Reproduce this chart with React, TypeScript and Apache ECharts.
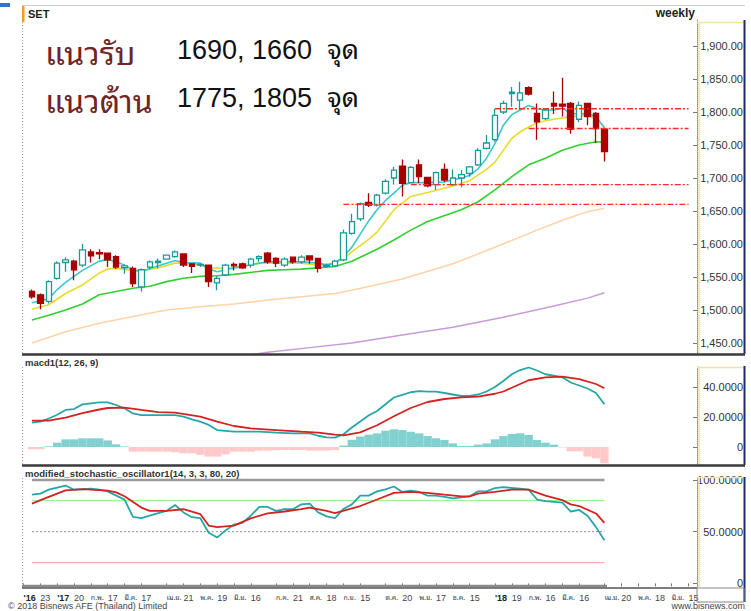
import { useEffect, useRef } from "react";
import * as echarts from "echarts";

const FONT = 'Arial, "Liberation Sans", Helvetica, sans-serif';
const THAI = '"Noto Sans Thai Looped", "Leelawadee UI", Tahoma, "Noto Sans Thai", "Noto Sans", sans-serif';
const MIXED = 'Arial, "Liberation Sans", "Noto Sans Thai Looped", Tahoma, "Noto Sans Thai", sans-serif';

// weekly categories (week ending dates)
const weeks = [
  "2016-12-09", "2016-12-16", "2016-12-23", "2016-12-30", "2017-01-06", "2017-01-13", "2017-01-20", "2017-01-27",
  "2017-02-03", "2017-02-10", "2017-02-17", "2017-02-24", "2017-03-03", "2017-03-10", "2017-03-17", "2017-03-24",
  "2017-03-31", "2017-04-07", "2017-04-14", "2017-04-21", "2017-04-28", "2017-05-05", "2017-05-12", "2017-05-19",
  "2017-05-26", "2017-06-02", "2017-06-09", "2017-06-16", "2017-06-23", "2017-06-30", "2017-07-07", "2017-07-14",
  "2017-07-21", "2017-07-28", "2017-08-04", "2017-08-11", "2017-08-18", "2017-08-25", "2017-09-01", "2017-09-08",
  "2017-09-15", "2017-09-22", "2017-09-29", "2017-10-06", "2017-10-13", "2017-10-20", "2017-10-27", "2017-11-03",
  "2017-11-10", "2017-11-17", "2017-11-24", "2017-12-01", "2017-12-08", "2017-12-15", "2017-12-22", "2017-12-29",
  "2018-01-05", "2018-01-12", "2018-01-19", "2018-01-26", "2018-02-02", "2018-02-09", "2018-02-16", "2018-02-23",
  "2018-03-02", "2018-03-09", "2018-03-16", "2018-03-23", "2018-03-30", "2018-04-06", "2018-04-13", "2018-04-20",
  "2018-04-27", "2018-05-04", "2018-05-11", "2018-05-18", "2018-05-25", "2018-06-01", "2018-06-08", "2018-06-15",
  "2018-06-22",
];

// tick labels: [week index, text]
const tickLabels: [number, string][] = [
  [0, "'16"], [2, "23"], [4, "'17"], [6, "20"], [8, "ก.พ."], [10, "17"], [12, "มี.ค."], [14, "17"],
  [17, "เม.ย."], [19, "21"], [21, "พ.ค."], [23, "19"], [25, "มิ.ย."], [27, "16"], [30, "ก.ค."], [32, "21"],
  [34, "ส.ค."], [36, "18"], [38, "ก.ย."], [40, "15"], [43, "ต.ค."], [45, "20"], [47, "พ.ย."], [49, "17"],
  [51, "ธ.ค."], [53, "15"], [56, "'18"], [58, "19"], [60, "ก.พ."], [62, "16"], [64, "มี.ค."], [66, "16"],
  [69, "เม.ย."], [71, "20"], [73, "พ.ค."], [75, "18"], [77, "มิ.ย."], [79, "15"],
];
const boldLabels = ["'16", "'17", "'18"];

const mainTicks = [1450, 1500, 1550, 1600, 1650, 1700, 1750, 1800, 1850, 1900];
const macdTicks = [0, 20, 40];
const stochTicks = [0, 50, 100];

// first candle sits on week index 1
const FIRST = 1;
// candles: [open, high, low, close]
const candles: number[][] = [
  [1528, 1531, 1517, 1520], [1523, 1525, 1501, 1510], [1513, 1545, 1510, 1543], [1548, 1574, 1546, 1571],
  [1572, 1580, 1558, 1576], [1574, 1576, 1545, 1561], [1568, 1600, 1565, 1591], [1588, 1592, 1572, 1582],
  [1587, 1592, 1577, 1585], [1586, 1587, 1565, 1576], [1581, 1583, 1562, 1565], [1564, 1569, 1555, 1567],
  [1563, 1566, 1535, 1540], [1535, 1563, 1528, 1561], [1565, 1575, 1562, 1573], [1572, 1578, 1563, 1574],
  [1577, 1584, 1576, 1583], [1581, 1590, 1579, 1588], [1585, 1586, 1565, 1568], [1570, 1571, 1556, 1566],
  [1568, 1571, 1565, 1569], [1568, 1569, 1535, 1543], [1541, 1552, 1530, 1548], [1553, 1570, 1551, 1568],
  [1569, 1572, 1560, 1567], [1570, 1572, 1562, 1564], [1568, 1579, 1564, 1577], [1578, 1583, 1573, 1581],
  [1586, 1588, 1570, 1573], [1578, 1580, 1565, 1571], [1568, 1580, 1565, 1577], [1580, 1581, 1570, 1573],
  [1573, 1583, 1570, 1580], [1582, 1583, 1570, 1576], [1578, 1579, 1557, 1563], [1566, 1570, 1564, 1568],
  [1567, 1576, 1565, 1574], [1576, 1622, 1574, 1617], [1616, 1646, 1614, 1634], [1638, 1663, 1635, 1661],
  [1663, 1677, 1656, 1659], [1659, 1676, 1657, 1674], [1677, 1698, 1675, 1695], [1700, 1717, 1690, 1712],
  [1718, 1728, 1672, 1692], [1693, 1718, 1692, 1716], [1720, 1728, 1692, 1702], [1701, 1702, 1686, 1688],
  [1690, 1710, 1682, 1708], [1713, 1722, 1694, 1697], [1690, 1713, 1688, 1700], [1700, 1712, 1686, 1705],
  [1707, 1718, 1702, 1717], [1720, 1745, 1718, 1742], [1745, 1765, 1743, 1753], [1758, 1805, 1755, 1795],
  [1800, 1817, 1797, 1813], [1828, 1838, 1808, 1830], [1818, 1846, 1803, 1829], [1837, 1839, 1825, 1827],
  [1798, 1813, 1758, 1785], [1790, 1805, 1788, 1803], [1813, 1831, 1797, 1809], [1812, 1852, 1793, 1809],
  [1813, 1815, 1767, 1774], [1789, 1816, 1785, 1810], [1813, 1814, 1780, 1793], [1798, 1800, 1753, 1775],
  [1774, 1775, 1725, 1739.92],
];
const lastCloseText = "1,739.92";

// moving averages read at candle indices: [candle index, value]
const maCyan: number[][] = [
  [0, 1511], [2, 1517], [3, 1531], [4, 1542], [6, 1560], [8, 1574], [9, 1576], [10, 1573], [11, 1568], [12, 1561],
  [13, 1558], [14, 1563], [16, 1571], [17, 1575], [18, 1572], [20, 1571], [21, 1562], [22, 1558], [23, 1561],
  [25, 1566], [27, 1571], [28, 1573], [30, 1573], [32, 1573], [34, 1571], [35, 1568], [36, 1571], [37, 1581],
  [38, 1595], [39, 1615], [40, 1635], [41, 1652], [42, 1666], [43, 1677], [44, 1689], [45, 1693], [47, 1693],
  [49, 1694], [51, 1700], [52, 1704], [53, 1714], [54, 1730], [55, 1752], [56, 1780], [57, 1796], [58, 1803],
  [59, 1810], [60, 1805], [61, 1803], [62, 1803], [63, 1806], [64, 1798], [65, 1797], [66, 1798], [67, 1793],
  [68, 1776],
];
const maYellow: number[][] = [
  [0, 1501], [2, 1508], [4, 1525], [6, 1538], [8, 1556], [9, 1562], [10, 1563], [12, 1560], [13, 1559],
  [15, 1564], [17, 1571], [18, 1571], [20, 1568], [21, 1564], [23, 1563], [25, 1566], [27, 1571], [30, 1571],
  [32, 1571], [34, 1568], [36, 1571], [37, 1578], [38, 1588], [40, 1607], [41, 1618], [43, 1652], [45, 1672],
  [47, 1678], [50, 1688], [52, 1696], [54, 1713], [55, 1724], [57, 1760], [58, 1770], [60, 1784], [62, 1789],
  [64, 1793], [66, 1795], [67, 1790], [68, 1778],
];
const maGreen: number[][] = [
  [0, 1485], [2, 1492], [4, 1500], [6, 1509], [8, 1523], [10, 1528], [12, 1533], [14, 1536], [16, 1543],
  [18, 1548], [20, 1551], [22, 1552], [24, 1554], [28, 1560], [30, 1561], [32, 1562], [36, 1566], [38, 1574],
  [39, 1580], [41, 1592], [43, 1606], [45, 1621], [47, 1634], [51, 1652], [53, 1664], [55, 1682], [57, 1702],
  [59, 1720], [61, 1730], [63, 1742], [65, 1750], [67, 1755], [68, 1754],
];
const maPeach: number[][] = [
  [0, 1450], [4, 1467], [8, 1480], [12, 1490], [16, 1500], [20, 1505], [24, 1509], [28, 1515], [32, 1520],
  [36, 1525], [38, 1530], [44, 1547], [50, 1570], [55, 1595], [60, 1621], [63, 1636], [66, 1649], [68, 1654],
];
const maPurple: number[][] = [
  [24, 1428], [28, 1436], [33, 1443], [38, 1450], [44, 1462], [50, 1474], [56, 1489], [62, 1506], [66, 1518],
  [68, 1526],
];

// support / resistance levels and the candle where each dashed line starts
const levelValues = [1805, 1775, 1690, 1660];
const levelStarts = [55, 59, 45, 37];
const levelEndWeek = 79;

// MACD(12,26,9)
const macdHist = [
  -1.5, -1.5, 0.5, 2.9, 5.1, 5.1, 5.8, 5.8, 5.8, 4.4, 1.8, 0.4, -3.1, -3.1, -3.1, -3.1, -3.1, -3.5, -4.2, -4.2,
  -5.3, -6.4, -6.4, -4.9, -3.1, -3.1, -3.1, -2.4, -2.4, -2.2, -2.0, -2.0, -2.0, -2.4, -2.4, -2.4, -2.0, 1.0, 4.8,
  7.0, 8.2, 9.1, 10.9, 11.8, 11.3, 10.2, 9.1, 7.3, 5.8, 4.7, 2.4, 0.7, 0.7, 1.6, 2.4, 5.1, 7.3, 8.7, 9.1, 8.0, 4.7,
  2.9, 1.6, -0.3, -2.9, -2.9, -6.4, -7.6, -10.9,
];
const macdLine: number[][] = [
  [0, 16.2], [1, 16.9], [2, 19], [3, 21.5], [4, 24.7], [5, 25.3], [6, 28.4], [7, 29.1], [8, 29.8], [9, 29.8],
  [10, 28], [11, 25.8], [12, 22.4], [13, 21.3], [15, 21.3], [17, 21.3], [18, 20.2], [19, 18.4], [20, 16.9],
  [21, 14.7], [22, 11.3], [24, 10.2], [27, 10.2], [29, 9.6], [31, 9.1], [33, 9.1], [34, 7.5], [35, 6.4],
  [36, 6.2], [37, 8.5], [38, 13], [39, 17], [40, 21], [41, 24], [42, 28.5], [43, 33], [44, 34.7], [45, 36.5],
  [46, 37.3], [47, 36.9], [48, 36.9], [49, 36], [50, 35], [51, 34], [52, 34], [53, 35], [54, 37], [55, 40],
  [56, 44], [57, 48.5], [58, 51.3], [59, 53], [60, 51], [61, 48.5], [62, 47.5], [63, 46.5], [64, 43], [65, 41],
  [66, 39], [67, 36], [68, 28.5],
];
const macdSignal: number[][] = [
  [0, 17.6], [2, 17.6], [4, 19.6], [6, 22.6], [8, 25], [9, 26], [11, 26.2], [13, 24.7], [15, 23.3], [17, 22.9],
  [20, 20.2], [22, 16.9], [24, 14], [26, 12.4], [29, 11.3], [32, 10.2], [34, 9.6], [36, 8.2], [37, 7.8],
  [39, 9.8], [41, 14.5], [43, 20.5], [45, 26], [47, 30], [49, 32], [51, 33.1], [53, 33.6], [55, 35.5], [56, 37],
  [57, 39.5], [59, 44.5], [61, 46.4], [63, 46.9], [65, 45.3], [67, 42], [68, 39.2],
];

// modified stochastic (14,3,3,80,20)
const stochK: number[][] = [
  [0, 85.8], [1, 86.8], [2, 90.6], [4, 94.6], [5, 90.6], [6, 91], [7, 91.5], [8, 90.6], [9, 89], [11, 81],
  [12, 64.4], [13, 63.2], [15, 67.9], [16, 70.1], [17, 75.8], [18, 68.6], [19, 64], [20, 63], [21, 49],
  [22, 44.3], [23, 51.2], [24, 56.9], [25, 58.5], [26, 65.4], [27, 73.9], [28, 73.9], [29, 70.1], [30, 71.7],
  [31, 71.7], [32, 76.4], [33, 77.1], [34, 68.6], [35, 64.8], [36, 63.2], [37, 72], [38, 76.4], [39, 84.9],
  [40, 84.9], [41, 89], [42, 91], [43, 93.7], [44, 88.4], [45, 89.6], [46, 88.4], [47, 84.9], [48, 84.9],
  [49, 83.7], [50, 82.1], [52, 84.2], [53, 89], [54, 89], [55, 92.2], [56, 93.1], [58, 91.5], [59, 90.6],
  [60, 81.1], [61, 79.5], [63, 78], [64, 69.5], [65, 71], [66, 65.4], [67, 54.4], [68, 41.8],
];
const stochD: number[][] = [
  [0, 77.1], [2, 83.7], [4, 89.9], [6, 91.2], [9, 89.6], [10, 88], [11, 84.2], [13, 73.3], [14, 70.1],
  [16, 70.1], [18, 71.7], [20, 67], [21, 55.9], [22, 54.4], [24, 55.9], [26, 62.9], [28, 67.6], [30, 69.5],
  [32, 71.7], [33, 73.3], [35, 70.1], [36, 67.9], [39, 74.8], [41, 81.1], [43, 87.5], [45, 88.4], [47, 87.5],
  [49, 85.8], [51, 84.2], [52, 84.2], [53, 86.8], [55, 88.4], [57, 90.6], [59, 90.6], [61, 84.9], [63, 80.5],
  [64, 76.4], [65, 74.8], [67, 67.6], [68, 58.5],
];
const stochLevels = [100, 80, 50, 20];

const toK = (pts: number[][]) => pts.map(([i, v]) => [i + FIRST, v]);
const lastK = candles.length - 1 + FIRST;

function buildOption(): any {
  const labelMap = new Map<number, string>(tickLabels);
  const gl = 23.5;
  const gr = 54;
  const grids = [
    { left: gl, right: gr, top: 20, height: 333 },
    { left: gl, right: gr, top: 367, height: 97 },
    { left: gl, right: gr, top: 478, height: 109 },
  ];
  const xAxes = [0, 1, 2].map((gi) => ({
    type: "category",
    gridIndex: gi,
    data: weeks,
    boundaryGap: false,
    axisLine: { show: false },
    axisTick:
      gi === 2
        ? {
            show: true,
            interval: (idx: number) => labelMap.has(idx),
            length: 3,
            lineStyle: { color: "#777" },
          }
        : { show: false },
    axisLabel:
      gi === 2
        ? {
            show: true,
            interval: 0,
            align: "left",
            margin: 6,
            fontSize: 9,
            color: "#444",
            fontFamily: FONT,
            formatter: (_v: string, idx: number) => {
              const t = labelMap.get(idx);
              if (!t) return "";
              if (boldLabels.includes(t)) return `{b|${t}}`;
              if (/[\u0E00-\u0E7F]/.test(t)) return `{t|${t}}`;
              return t;
            },
            rich: {
              b: { fontWeight: "bold", fontSize: 9, color: "#222", fontFamily: FONT },
              t: { fontSize: 7, color: "#444", fontFamily: THAI },
            },
          }
        : { show: false },
    splitLine: { show: false },
  }));
  const yBase = (gi: number, min: number, max: number, ticks: number[], fmt: (v: number) => string) => ({
    type: "value",
    gridIndex: gi,
    position: "right",
    min,
    max,
    axisLine: { show: true, lineStyle: { color: "#8c8c8c", type: "dotted" } },
    axisTick: { show: true, inside: true, length: 4, customValues: ticks, lineStyle: { color: "#777" } },
    axisLabel: {
      customValues: ticks,
      formatter: fmt,
      align: "right",
      margin: 46,
      color: "#333",
      fontSize: 11,
      fontFamily: FONT,
      showMinLabel: true,
      showMaxLabel: true,
    },
    splitLine: { show: false },
  });
  const fmtNum = (d: number) => (v: number) =>
    v === 0 ? "0" : v.toLocaleString("en-US", { minimumFractionDigits: d, maximumFractionDigits: d });
  const yAxes = [
    yBase(0, 1434.85, 1939.39, mainTicks, fmtNum(2)),
    yBase(1, -11.33, 53.33, macdTicks, fmtNum(4)),
    yBase(2, -3.5, 101.9, stochTicks, fmtNum(4)),
  ];

  const line = (data: number[][], color: string, width: number, xi: number, z = 3, type: any = "solid") => ({
    type: "line",
    xAxisIndex: xi,
    yAxisIndex: xi,
    data,
    showSymbol: false,
    symbol: "none",
    smooth: false,
    z,
    lineStyle: { color, width, type },
    silent: true,
  });

  const series: any[] = [
    line(toK(maPurple), "#c99ad8", 1.5, 0, 2),
    line(toK(maPeach), "#ffd3a8", 1.5, 0, 2),
    line(toK(maGreen), "#2fd02f", 1.6, 0, 2),
    line(toK(maYellow), "#e7dc2a", 1.6, 0, 2),
    line(toK(maCyan), "#3cc6cf", 1.6, 0, 2),
    {
      type: "candlestick",
      xAxisIndex: 0,
      yAxisIndex: 0,
      data: candles.map(([o, h, l, c], i) => [i + FIRST, o, c, l, h]),
      encode: { x: 0, y: [1, 2, 3, 4] },
      barWidth: 6,
      z: 4,
      itemStyle: {
        color: "#ffffff",
        color0: "#a80000",
        borderColor: "#1f9898",
        borderColor0: "#a80000",
        borderWidth: 1.3,
      },
      markLine: {
        silent: true,
        symbol: "none",
        data: [{ yAxis: candles[candles.length - 1][3] }],
        lineStyle: { opacity: 0 },
        label: {
          show: true,
          position: "end",
          distance: 1,
          formatter: lastCloseText,
          backgroundColor: "#ffff00",
          color: "#333",
          fontSize: 11,
          fontFamily: FONT,
          padding: [1, 1, 0, 1],
        },
      },
    },
  ];
  levelValues.forEach((v, j) => {
    series.push(
      line([[levelStarts[j] + FIRST, v], [levelEndWeek, v]], "#ff2a2a", 1.4, 0, 5, [6, 2, 2, 2])
    );
  });

  // MACD
  series.push({
    type: "bar",
    xAxisIndex: 1,
    yAxisIndex: 1,
    barWidth: 8.4,
    silent: true,
    z: 1,
    data: macdHist.map((v, i) => ({
      value: [i + FIRST, v],
      itemStyle: { color: v >= 0 ? "#82d0d0" : "#ffc9c9" },
    })),
  });
  series.push(line(toK(macdLine), "#26a6a6", 1.8, 1, 3));
  series.push(line(toK(macdSignal), "#d42222", 1.8, 1, 4));

  // Stochastic reference lines
  const stochStyles: [string, number, any][] = [
    ["#9a9a9a", 2.5, "solid"],
    ["#8ff08f", 1, "solid"],
    ["#8a8a8a", 1, [2, 2]],
    ["#ff9a9a", 1, "solid"],
  ];
  stochLevels.forEach((lv, j) => {
    const [c, w, t] = stochStyles[j];
    series.push(line([[FIRST, lv], [lastK, lv]], c, w, 2, 1, t));
  });
  series.push(line(toK(stochK), "#26a6a6", 1.8, 2, 3));
  series.push(line(toK(stochD), "#d42222", 1.8, 2, 4));

  const L = (x1: number, y1: number, x2: number, y2: number, stroke: string, lineWidth = 1, lineDash?: number[]) => ({
    type: "line",
    silent: true,
    z: 10,
    shape: { x1, y1, x2, y2 },
    style: { stroke, lineWidth, lineDash },
  });
  const T = (x: number, y: number, text: string, o: any) => ({
    type: "text",
    silent: true,
    z: 10,
    x,
    y,
    style: { text, verticalAlign: "middle", fontFamily: FONT, fill: "#222", ...o },
  });
  const cream = "#f2e2a6";
  const navy = "#1f2a70";
  const graphic: any[] = [
    { type: "rect", silent: true, shape: { x: 0, y: 3, width: 10, height: 4 }, style: { fill: "#3e6fc6" } },
    L(22, 5.5, 745, 5.5, "#cfcfcf", 1),
    { type: "rect", silent: true, shape: { x: 22, y: 6, width: 2.5, height: 16 }, style: { fill: "#f39c1f" } },
    T(28, 14, "SET", { fontSize: 11, fontWeight: "bold" }),
    T(695, 13, "weekly", { fontSize: 12, fontWeight: "bold", align: "right" }),
    T(45, 50, "แนวรับ", { fontSize: 32, fontFamily: THAI, fill: "#6e2626" }),
    T(177, 50, "1690, 1660  จุด", { fontSize: 27, fontFamily: MIXED, fill: "#111" }),
    T(45, 98, "แนวต้าน", { fontSize: 32, fontFamily: THAI, fill: "#6e2626" }),
    T(177, 98, "1775, 1805  จุด", { fontSize: 27, fontFamily: MIXED, fill: "#111" }),
    // left dotted axes
    L(22.5, 22, 22.5, 353, "#9a9a9a", 1, [1, 2]),
    L(22.5, 367, 22.5, 464, "#9a9a9a", 1, [1, 2]),
    L(22.5, 478, 22.5, 587, "#9a9a9a", 1, [1, 2]),
    // right label columns
    L(697, 22.5, 744, 22.5, cream, 1.5),
    L(699, 22, 699, 353, cream, 1.5),
    L(697, 367.5, 744, 367.5, cream, 1.5),
    L(699, 367, 699, 464, cream, 1.5),
    L(697, 477.5, 744, 477.5, cream, 1.5),
    L(699, 477, 699, 587, cream, 1.5),
    L(744.5, 20, 744.5, 354, navy, 2),
    L(744.5, 366, 744.5, 465, navy, 2),
    L(744.5, 477, 744.5, 602, navy, 2),
    // panel separators
    L(22, 354.5, 745, 354.5, "#3a3a3a", 2.5),
    L(22, 465.5, 745, 465.5, "#3a3a3a", 2.5),
    L(22, 586, 607, 586, "#8a8a8a", 2.5),
    L(22, 588, 697, 588, "#555555", 1.5),
    { type: "rect", silent: true, z: 10, shape: { x: 697, y: 588, width: 47, height: 14 }, style: { fill: "none", stroke: "#888", lineWidth: 1 } },
    T(25, 362, "macd1(12, 26, 9)", { fontSize: 9.5, fontWeight: "bold", fill: "#333" }),
    T(25, 473, "modified_stochastic_oscillator1(14, 3, 3, 80, 20)", { fontSize: 9.5, fontWeight: "bold", fill: "#333" }),
    T(8, 606, "© 2018 Bisnews AFE (Thailand) Limited", { fontSize: 9, fill: "#444" }),
    T(745, 606, "www.bisnews.com", { fontSize: 9, fill: "#444", align: "right" }),
  ];

  return {
    animation: false,
    backgroundColor: "#ffffff",
    textStyle: { fontFamily: FONT },
    grid: grids,
    xAxis: xAxes,
    yAxis: yAxes,
    series,
    graphic,
  };
}

export default function App() {
  const ref = useRef<HTMLDivElement>(null);
  useEffect(() => {
    if (!ref.current) return;
    const chart = echarts.init(ref.current, null, { renderer: "svg" });
    chart.setOption(buildOption());
    return () => chart.dispose();
  }, []);
  return (
    <div
      ref={ref}
      style={{ position: "fixed", left: 0, top: 0, width: 751, height: 611, background: "#fff" }}
    />
  );
}
